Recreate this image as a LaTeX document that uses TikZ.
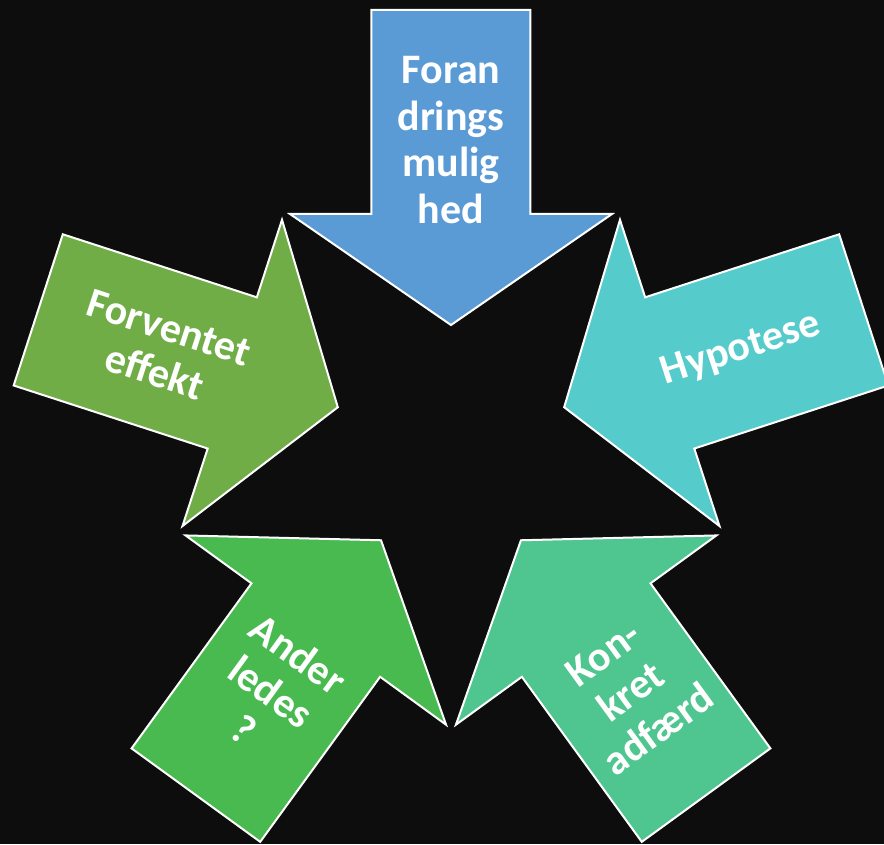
\documentclass[tikz,border=0pt]{standalone}
\usepackage{fontspec}
\setmainfont{Carlito}
\definecolor{bgc}{HTML}{0D0D0D}
\definecolor{cA}{HTML}{5B9BD5}
\definecolor{cB}{HTML}{55CBCB}
\definecolor{cC}{HTML}{4FC68F}
\definecolor{cD}{HTML}{48BA4F}
\definecolor{cE}{HTML}{70AD47}
\tikzset{
  arrowbody/.style={draw=white, line width=2pt, line join=miter},
  arrowtext/.style={text=white, font=\bfseries\fontsize{42}{46.6}\selectfont, align=center, inner sep=0pt}
}
\newcommand\convArrow[2]{%
  \begin{scope}[rotate=#1]
    \filldraw[arrowbody, fill=#2] (-119,0) -- (-230,161) -- (-230,79.5) -- (-434,79.5)
      -- (-434,-79.5) -- (-230,-79.5) -- (-230,-161) -- cycle;
  \end{scope}}
\begin{document}
\begin{tikzpicture}[x=1pt,y=1pt]
\useasboundingbox (-451,-400) rectangle (433,444);
\fill[bgc] (-451,-400) rectangle (433,444);
\begin{scope}
\clip (-451,-400) rectangle (433,444);
\convArrow{-90}{cA}
\convArrow{198}{cB}
\convArrow{126}{cC}
\convArrow{54}{cD}
\convArrow{-18}{cE}
\end{scope}
\node[arrowtext] (t1) at (90:304) {Foran\\drings\\mulig\\hed};
\node[arrowtext, rotate=18] (t2) at (18:305) {Hypotese};
\node[arrowtext, rotate=36] (t3) at (-54:306) {Kon-\\kret\\adfærd};
\node[arrowtext, rotate=-36] (t4) at (-126:306) {Ander\\ledes\\?};
\node[arrowtext, rotate=-18] (t5) at (162:304) {Forventet\\effekt};
\end{tikzpicture}
\end{document}
